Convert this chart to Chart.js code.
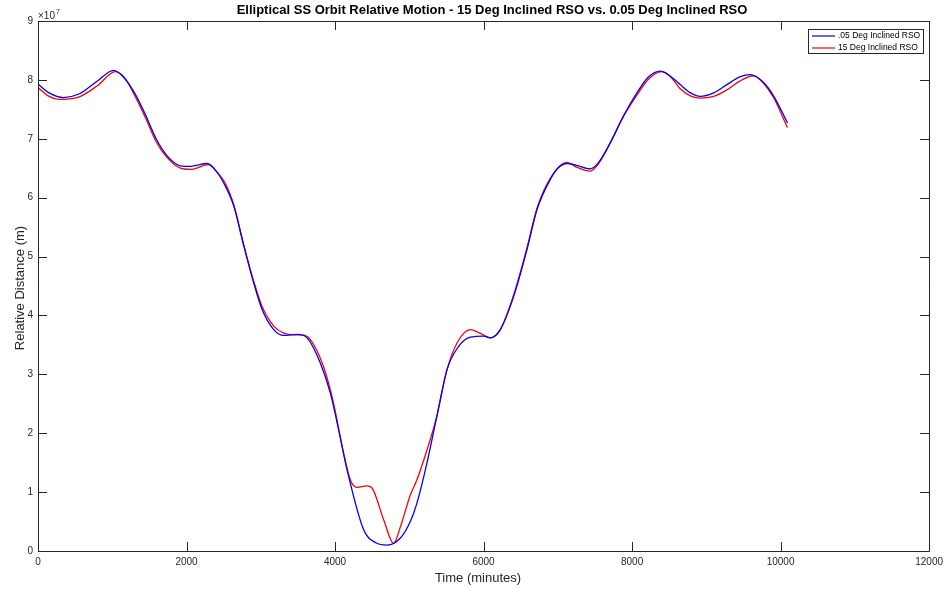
<!DOCTYPE html>
<html>
<head>
<meta charset="utf-8">
<script src="https://cdn.jsdelivr.net/npm/chart.js@4.4.0/dist/chart.umd.min.js"></script>
<style>
  html, body { margin: 0; padding: 0; background: #fff; }
  #wrap { width: 948px; height: 590px; position: relative; }
</style>
</head>
<body>
<div id="wrap"><canvas id="orbitChart" width="948" height="590"></canvas></div>
<script>
/* === DATA (distance in units of 1e7 m) === */
const timeBlue = [0,150,343,550,800,1016,1150,1300,1450,1591,1739,1918,2053,2277,2400,2501,2636,2771,2905,3018,3174,3309,3489,3624,3803,3937,4050,4162,4386,4550,4700,4880,5014,5100,5239,5373,5508,5650,5822,6000,6091,6225,6405,6585,6720,6899,7000,7124,7250,7437,7550,7706,7885,8065,8220,8379,8500,8648,8800,8917,9100,9277,9450,9591,9750,9905,10093];
const distBlue = [7.93,7.78,7.70,7.76,7.98,8.16,8.05,7.78,7.40,7.00,6.71,6.54,6.53,6.58,6.45,6.25,5.86,5.18,4.55,4.10,3.76,3.66,3.68,3.62,3.19,2.68,2.05,1.38,0.36,0.14,0.10,0.22,0.50,0.80,1.50,2.30,3.08,3.45,3.63,3.65,3.62,3.76,4.32,5.12,5.80,6.31,6.50,6.58,6.55,6.49,6.60,6.93,7.39,7.78,8.05,8.15,8.08,7.92,7.77,7.72,7.78,7.92,8.05,8.09,7.98,7.73,7.27];

const timeRed = [0,150,280,528,800,1040,1170,1300,1450,1591,1739,1918,2053,2300,2420,2520,2636,2771,2905,3018,3174,3309,3450,3550,3668,3848,3982,4100,4206,4296,4431,4498,4655,4789,4880,5014,5100,5239,5373,5508,5650,5822,5950,6091,6225,6405,6585,6720,6899,7124,7250,7437,7550,7706,7885,8065,8220,8400,8520,8648,8800,8917,9100,9277,9450,9636,9780,9905,10093];
const distRed = [7.87,7.72,7.67,7.70,7.90,8.14,8.03,7.74,7.35,6.95,6.68,6.50,6.48,6.56,6.42,6.25,5.88,5.20,4.58,4.15,3.82,3.70,3.67,3.67,3.59,3.12,2.50,1.75,1.21,1.08,1.105,1.07,0.53,0.13,0.41,0.95,1.20,1.72,2.30,3.08,3.55,3.76,3.70,3.62,3.76,4.35,5.15,5.82,6.33,6.60,6.52,6.45,6.58,6.93,7.38,7.74,8.01,8.14,8.05,7.85,7.72,7.69,7.72,7.83,7.98,8.07,7.93,7.70,7.19];

const xTicks = [0,2000,4000,6000,8000,10000,12000];
const yTicks = [0,1,2,3,4,5,6,7,8,9];
const seriesNames = [".05 Deg Inclined RSO", "15 Deg Inclined RSO"];
const seriesColors = ["#0000ff", "#ff0000"];

const titleText = "Elliptical SS Orbit Relative Motion - 15 Deg Inclined RSO vs. 0.05 Deg Inclined RSO";
const xLabel = "Time (minutes)";
const yLabel = "Relative Distance (m)";

function toPoints(xs, ys){
  return xs.map((x, i) => ({ x: x, y: ys[i] }));
}

const FONT = "'Liberation Sans', Arial, Helvetica, sans-serif";
const AXIS = "#262626";

/* === box, inward ticks, titles, legend === */
const matlabLook = {
  id: "matlabLook",
  afterDraw(chart){
    const ctx = chart.ctx;
    const xs = chart.scales.x, ys = chart.scales.y;
    const L = xs.left, R = xs.right, T = ys.top, B = ys.bottom;
    ctx.save();
    ctx.strokeStyle = AXIS;
    ctx.lineWidth = 1;
    ctx.beginPath();
    ctx.rect(Math.round(L) + 0.5, Math.round(T) + 0.5, Math.round(R - L), Math.round(B - T));
    ctx.stroke();

    // inward ticks
    ctx.beginPath();
    xTicks.forEach(v => {
      const px = Math.round(xs.getPixelForValue(v)) + 0.5;
      ctx.moveTo(px, B); ctx.lineTo(px, B - 9);
      ctx.moveTo(px, T); ctx.lineTo(px, T + 9);
    });
    yTicks.forEach(v => {
      const py = Math.round(ys.getPixelForValue(v)) + 0.5;
      ctx.moveTo(L, py); ctx.lineTo(L + 9, py);
      ctx.moveTo(R, py); ctx.lineTo(R - 9, py);
    });
    ctx.stroke();

    // title
    ctx.fillStyle = "#000";
    ctx.font = "bold 13px " + FONT;
    ctx.textAlign = "center";
    ctx.textBaseline = "middle";
    ctx.fillText(titleText, 492, 10);

    // axis titles
    ctx.fillStyle = AXIS;
    ctx.font = "13px " + FONT;
    ctx.fillText(xLabel, 478, 578);
    ctx.save();
    ctx.translate(20, 288);
    ctx.rotate(-Math.PI / 2);
    ctx.fillText(yLabel, 0, 0);
    ctx.restore();

    // exponent
    ctx.textAlign = "left";
    ctx.textBaseline = "alphabetic";
    ctx.font = "10px " + FONT;
    ctx.fillText("\u00d710", 38, 19);
    ctx.font = "7px " + FONT;
    ctx.fillText("7", 56, 14);

    // legend
    const lx = 808, ly = 29, lw = 115, lh = 24;
    ctx.fillStyle = "#fff";
    ctx.fillRect(lx, ly, lw, lh);
    ctx.strokeStyle = AXIS;
    ctx.strokeRect(lx + 0.5, ly + 0.5, lw, lh);
    ctx.font = "8.5px " + FONT;
    ctx.textBaseline = "middle";
    seriesNames.forEach((name, i) => {
      const yy = ly + 7 + i * 12;
      ctx.strokeStyle = seriesColors[i];
      ctx.lineWidth = 1.2;
      ctx.beginPath();
      ctx.moveTo(lx + 4, yy); ctx.lineTo(lx + 27, yy);
      ctx.stroke();
      ctx.fillStyle = "#000";
      ctx.fillText(name, lx + 30, yy);
    });
    ctx.restore();
  }
};

const ctx = document.getElementById("orbitChart").getContext("2d");

const chart = new Chart(ctx, {
  type: "scatter",
  data: {
    datasets: [
      {
        label: seriesNames[0],
        data: toPoints(timeBlue, distBlue),
        borderColor: seriesColors[0],
        showLine: true,
        borderWidth: 1.3,
        pointRadius: 0,
        cubicInterpolationMode: "monotone"
      },
      {
        label: seriesNames[1],
        data: toPoints(timeRed, distRed),
        borderColor: seriesColors[1],
        showLine: true,
        borderWidth: 1.3,
        pointRadius: 0,
        cubicInterpolationMode: "monotone"
      }
    ]
  },
  options: {
    responsive: false,
    animation: false,
    layout: { padding: { left: 0, right: 17, top: 21, bottom: 0 } },
    plugins: {
      legend: { display: false },
      tooltip: { enabled: false },
      title: { display: false }
    },
    scales: {
      x: {
        type: "linear",
        min: 0, max: 12000,
        afterBuildTicks: s => { s.ticks = xTicks.map(v => ({ value: v })); },
        afterFit: s => { s.height = 39; },
        grid: { display: false, drawTicks: false },
        border: { display: false },
        ticks: {
          color: AXIS, padding: 5, maxRotation: 0,
          font: { family: FONT, size: 10 },
          callback: v => String(v)
        }
      },
      y: {
        type: "linear",
        min: 0, max: 9,
        afterBuildTicks: s => { s.ticks = yTicks.map(v => ({ value: v })); },
        afterFit: s => { s.width = 38; },
        grid: { display: false, drawTicks: false },
        border: { display: false },
        ticks: {
          color: AXIS, padding: 5,
          font: { family: FONT, size: 10 },
          callback: v => String(v)
        }
      }
    }
  },
  plugins: [matlabLook]
});
</script>
</body>
</html>
